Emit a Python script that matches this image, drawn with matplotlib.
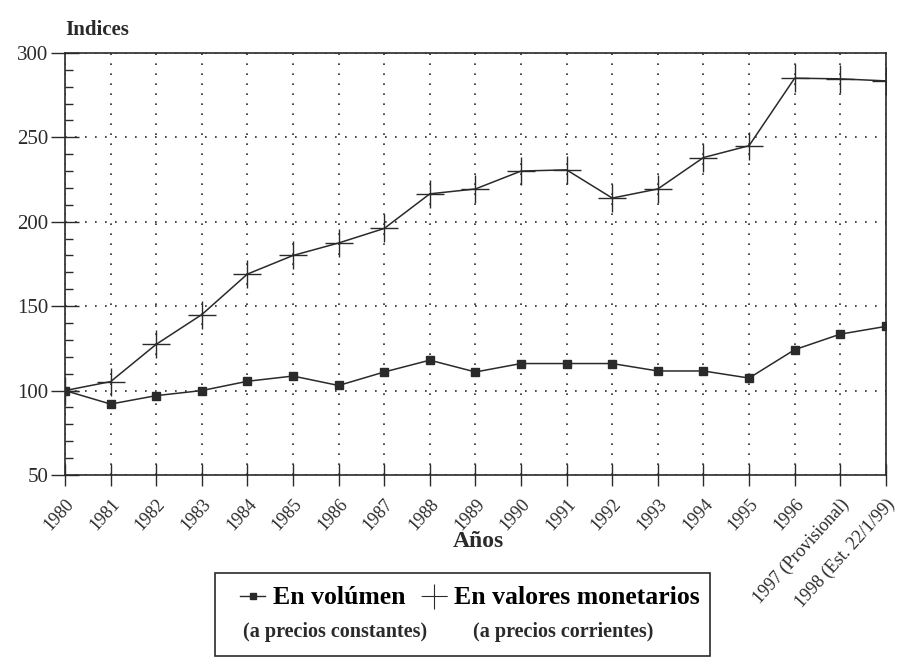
import numpy as np
import matplotlib.pyplot as plt
from matplotlib.patches import Rectangle
from matplotlib.lines import Line2D

plt.rcParams.update({
    "font.family": "Liberation Serif",
    "font.size": 14
})

years = ['1980', '1981', '1982', '1983', '1984', '1985', '1986', '1987', '1988',
         '1989', '1990', '1991', '1992', '1993', '1994', '1995', '1996',
         '1997 (Provisional)', '1998 (Est. 22/1/99)']
volumen = [100, 92, 97, 100, 105.5, 108.6, 103, 111, 118, 111, 116, 116, 116,
           111.6, 111.6, 107.4, 124.2, 133.4, 138]
monetario = [100, 105.3, 127.4, 145, 169, 180, 187.4, 196, 216.5, 219.4, 230,
             230.7, 214, 219.4, 238, 245, 285, 284.6, 283.4]

x = np.arange(len(years))
ink = '#2a2a2a'

fig = plt.figure(figsize=(9.03, 6.69), dpi=100)
ax = fig.add_axes([0.072, 0.290, 0.909, 0.631])

ax.plot(x, monetario, color=ink, lw=1.1, marker='+', ms=20, mew=1.0)
ax.plot(x, volumen, color=ink, lw=1.1, marker='s', ms=5.5)

ax.set_xlim(0, len(years) - 1)
ax.set_ylim(50, 300)
ax.set_yticks([50, 100, 150, 200, 250, 300])
ax.set_yticks(np.arange(50, 300, 10), minor=True)
ax.set_xticks(x)
ax.set_xticklabels(years, rotation=48, ha='right', rotation_mode='anchor', fontsize=13)
ax.tick_params(axis='y', which='major', direction='inout', length=20, width=1, colors=ink, labelsize=15, pad=2)
ax.tick_params(axis='y', which='minor', direction='in', length=6, width=1, colors=ink)
ax.tick_params(axis='x', which='major', direction='inout', length=16, width=1, colors=ink, pad=7)

ax.grid(True, which='major', color=ink, linestyle=(0, (1, 5)), linewidth=1.2)
for s in ax.spines.values():
    s.set_color(ink)
    s.set_linewidth(1.2)

fig.text(0.072, 0.955, 'Indices', fontsize=15, fontweight='bold', ha='left', va='center', color=ink)
fig.text(0.530, 0.190, 'Años', fontsize=17, fontweight='bold', ha='center', va='center', color=ink)

# legend box
fig.patches.append(Rectangle((215 / 903, 1 - 656 / 669), 495 / 903, 83 / 669,
                             transform=fig.transFigure, fill=False, edgecolor=ink, lw=1.2))
h1 = Line2D([], [], color=ink, lw=1.0, marker='s', ms=4)
h2 = Line2D([], [], color=ink, lw=0.6, ls=(0, (2, 1)), marker='+', ms=18, mew=0.8)
fig.legend([h1, h2], ['En volúmen', 'En valores monetarios'], ncol=2,
           loc='center', bbox_to_anchor=(470 / 903, 1 - 598 / 669), frameon=False,
           prop={'weight': 'bold', 'size': 18.5}, handlelength=1.0, handletextpad=0.3,
           columnspacing=0.6, borderpad=0, borderaxespad=0)
fig.text(243 / 903, 1 - 632 / 669, '(a precios constantes)', fontsize=14.5, fontweight='bold',
         ha='left', va='center', color=ink)
fig.text(473 / 903, 1 - 632 / 669, '(a precios corrientes)', fontsize=14.5, fontweight='bold',
         ha='left', va='center', color=ink)

plt.savefig('out.png', dpi=100)
